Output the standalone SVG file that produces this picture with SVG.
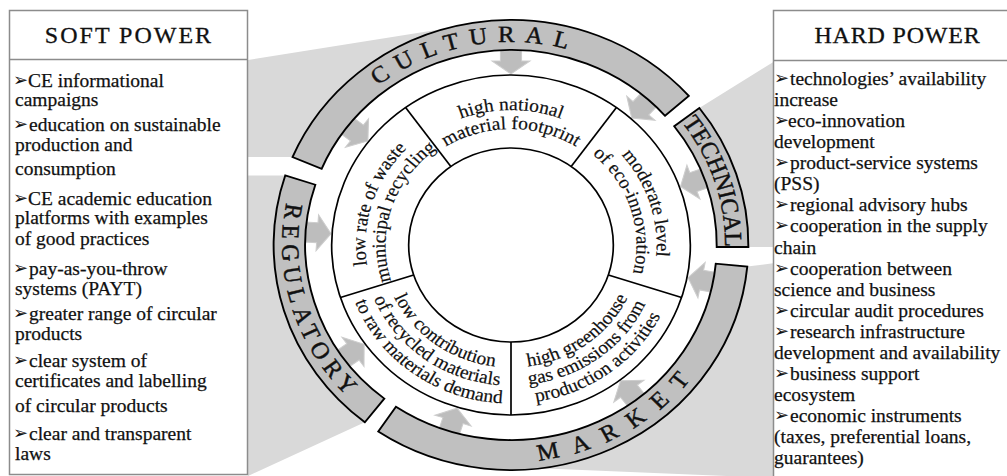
<svg xmlns="http://www.w3.org/2000/svg" width="1007" height="476" viewBox="0 0 1007 476">
  <style>
    .bg{fill:#d9d9d9}
    .box{fill:#fff;stroke:#8c8c8c;stroke-width:1.5}
    .sep{stroke:#8c8c8c;stroke-width:1.5}
    .title{font-family:"Liberation Serif","Times New Roman",serif;font-size:24px;fill:#111;stroke:#111;stroke-width:0.3}
    .item{font-family:"Liberation Serif","Times New Roman",serif;font-size:19.5px;fill:#111;stroke:#111;stroke-width:0.25}
    .bl{font-family:"DejaVu Sans",sans-serif;font-size:18px;fill:#111}
    .band{fill:#c0c0c0;stroke:#000;stroke-width:1.8}
    .ring{fill:#fff;stroke:#000;stroke-width:1.6}
    .div{stroke:#000;stroke-width:1.6}
    .arrow{fill:#bdbdbd;stroke:#cdcdcd;stroke-width:1}
    .seg{font-family:"Liberation Serif","Times New Roman",serif;font-size:18.5px;fill:#111;stroke:#111;stroke-width:0.2}
    .lbl{font-family:"Liberation Serif","Times New Roman",serif;font-size:23.5px;fill:#111;stroke:#111;stroke-width:0.45}
  </style>
  <defs>
    <!-- inward-pointing block arrow, laid along +x, tip toward the centre -->
    <path id="arr" d="M200,-10 L184,-10 L184,-18 L171,0 L184,18 L184,10 L200,10 Z"/>
    <!-- band label paths -->
    <path id="pCul" d="M-200.10,-34.21 A203,203 0 0 1 175.27,-102.41"/>
    <path id="pTec" d="M41.17,-198.78 A203,203 0 0 1 151.56,135.04"/>
    <path id="pMar" d="M-136.28,168.87 A217,217 0 0 0 212.94,-41.77"/>
    <path id="pReg" d="M-159.21,-147.43 A217,217 0 0 0 -48.07,211.6"/>
    <!-- segment label paths -->
    <path id="sT1" d="M-86.78,-103.41 A135,135 0 0 1 86.78,-103.41"/>
    <path id="sT2" d="M-74.56,-88.86 A116,116 0 0 1 74.56,-88.86"/>
    <path id="sR1" d="M73.13,-117.02 A138,138 0 0 1 127.95,51.69"/>
    <path id="sR2" d="M63.06,-100.91 A119,119 0 0 1 110.34,44.58"/>
    <path id="sL1" d="M-127.95,51.69 A138,138 0 0 1 -73.13,-117.02"/>
    <path id="sL2" d="M-110.34,44.58 A119,119 0 0 1 -63.06,-100.91"/>
    <path id="sBR1" d="M-8.54,122.2 A122.5,122.5 0 0 0 118.86,29.63"/>
    <path id="sBR2" d="M-9.8,140.16 A140.5,140.5 0 0 0 136.32,33.99"/>
    <path id="sBR3" d="M-11.07,158.12 A158.5,158.5 0 0 0 153.79,38.34"/>
    <path id="sBL1" d="M-118.86,29.63 A122.5,122.5 0 0 0 8.54,122.2"/>
    <path id="sBL2" d="M-136.32,33.99 A140.5,140.5 0 0 0 9.8,140.16"/>
    <path id="sBL3" d="M-153.79,38.34 A158.5,158.5 0 0 0 11.07,158.12"/>
  </defs>

  <rect width="1007" height="476" fill="#fff"/>

  <!-- shaded wedges joining the boxes to the outer bands -->
  <g id="wedges">
    <path class="bg" d="M248,60 L452,27.5 L457.4,41.2 A221.55,210 0 0 0 307.1,163.0 L292.5,157.1 L248,157.1 Z"/>
    <path class="bg" d="M248,175.5 L285.2,175.5 L300.3,180.1 A221.55,210 0 0 0 374.6,410.5 L364.8,422.3 L248,476 Z"/>
    <path class="bg" d="M775,61 L699.3,108.0 L686.8,117.2 A221.55,210 0 0 1 732.5,246.8 L748.4,247 L775,247 Z"/>
    <path class="bg" d="M775,263 L747.3,266.6 L731.5,265.1 A221.55,210 0 0 1 538,453.4 L539.9,468.3 L775,478 Z"/>
  </g>

  <!-- left box -->
  <g id="soft-power">
    <rect class="box" x="9.5" y="10.5" width="238" height="464"/>
    <line class="sep" x1="9.5" y1="59.5" x2="247.5" y2="59.5"/>
    <text class="title" x="129" y="43" text-anchor="middle" letter-spacing="2">SOFT POWER</text>
    <g class="bl">
      <text x="13" y="86">➢</text>
      <text x="13" y="130">➢</text>
      <text x="13" y="204">➢</text>
      <text x="13" y="274">➢</text>
      <text x="13" y="319">➢</text>
      <text x="13" y="366">➢</text>
      <text x="13" y="439">➢</text>
    </g>
    <text class="item" x="28" y="87">CE informational</text>
    <text class="item" x="15" y="106">campaigns</text>
    <text class="item" x="29" y="131">education on sustainable</text>
    <text class="item" x="15" y="151">production and</text>
    <text class="item" x="15" y="175">consumption</text>
    <text class="item" x="28" y="205">CE academic education</text>
    <text class="item" x="15" y="224">platforms with examples</text>
    <text class="item" x="15" y="245">of good practices</text>
    <text class="item" x="29" y="275">pay-as-you-throw</text>
    <text class="item" x="15" y="295">systems (PAYT)</text>
    <text class="item" x="29" y="320">greater range of circular</text>
    <text class="item" x="15" y="340">products</text>
    <text class="item" x="29" y="367">clear system of</text>
    <text class="item" x="15" y="387">certificates and labelling</text>
    <text class="item" x="15" y="412">of circular products</text>
    <text class="item" x="29" y="440">clear and transparent</text>
    <text class="item" x="15" y="460">laws</text>
  </g>

  <!-- right box -->
  <g id="hard-power">
    <rect class="box" x="773.5" y="10.5" width="250" height="480"/>
    <line class="sep" x1="773.5" y1="60.5" x2="1007" y2="60.5"/>
    <text class="title" x="897.5" y="43" text-anchor="middle" letter-spacing="0.8">HARD POWER</text>
    <g class="bl">
      <text x="774" y="84">➢</text>
      <text x="774" y="126.1">➢</text>
      <text x="774" y="168.2">➢</text>
      <text x="774" y="210.4">➢</text>
      <text x="774" y="231.4">➢</text>
      <text x="774" y="273.5">➢</text>
      <text x="774" y="315.7">➢</text>
      <text x="774" y="336.7">➢</text>
      <text x="774" y="378.8">➢</text>
      <text x="774" y="421">➢</text>
    </g>
    <text class="item" x="790" y="85">technologies’ availability</text>
    <text class="item" x="774" y="106.1">increase</text>
    <text class="item" x="788" y="127.1">eco-innovation</text>
    <text class="item" x="774" y="148.2">development</text>
    <text class="item" x="790" y="169.2">product-service systems</text>
    <text class="item" x="774" y="190.3">(PSS)</text>
    <text class="item" x="790" y="211.4">regional advisory hubs</text>
    <text class="item" x="790" y="232.4">cooperation in the supply</text>
    <text class="item" x="774" y="253.5">chain</text>
    <text class="item" x="790" y="274.5">cooperation between</text>
    <text class="item" x="774" y="295.6">science and business</text>
    <text class="item" x="790" y="316.7">circular audit procedures</text>
    <text class="item" x="790" y="337.7">research infrastructure</text>
    <text class="item" x="774" y="358.8">development and availability</text>
    <text class="item" x="790" y="379.8">business support</text>
    <text class="item" x="774" y="400.9">ecosystem</text>
    <text class="item" x="790" y="422">economic instruments</text>
    <text class="item" x="774" y="443">(taxes, preferential loans,</text>
    <text class="item" x="774" y="464.1">guarantees)</text>
  </g>

  <!-- central wheel, drawn in circle units and stretched slightly -->
  <g transform="translate(511,245) scale(1.055,1)">
    <g id="connectors">
      <use href="#arr" class="arrow" transform="rotate(183.8)"/>
      <use href="#arr" class="arrow" transform="rotate(217.5)"/>
      <use href="#arr" class="arrow" transform="rotate(270)"/>
      <use href="#arr" class="arrow" transform="rotate(312)"/>
      <use href="#arr" class="arrow" transform="rotate(340)"/>
      <use href="#arr" class="arrow" transform="rotate(11)"/>
      <use href="#arr" class="arrow" transform="rotate(52.6)"/>
      <use href="#arr" class="arrow" transform="rotate(107.4)"/>
      <use href="#arr" class="arrow" transform="rotate(144.5)"/>
    </g>

    <g id="cultural">
      <path class="band" d="M-207.11,-87.91 A225,225 0 0 1 168.53,-149.09 L146.06,-129.21 A195,195 0 0 0 -179.5,-76.19 Z"/>
      <text class="lbl" letter-spacing="9.5"><textPath href="#pCul" startOffset="50%" text-anchor="middle">CULTURAL</textPath></text>
    </g>
    <g id="technical">
      <path class="band" d="M178.52,-136.98 A225,225 0 0 1 224.99,2 L194.99,2 A195,195 0 0 0 154.71,-118.72 Z"/>
      <text class="lbl" font-size="19.5"><textPath href="#pTec" startOffset="50%" text-anchor="middle">TECHNICAL</textPath></text>
    </g>
    <g id="market">
      <path class="band" d="M223.96,21.56 A225,225 0 0 1 -125.82,186.53 L-109.04,161.66 A195,195 0 0 0 194.1,18.69 Z"/>
      <text class="lbl" letter-spacing="14"><textPath href="#pMar" startOffset="50%" text-anchor="middle">MARKET</textPath></text>
    </g>
    <g id="regulatory">
      <path class="band" d="M-138.53,177.3 A225,225 0 0 1 -214.0,-69.53 L-185.46,-60.26 A195,195 0 0 0 -120.06,153.66 Z"/>
      <text class="lbl" letter-spacing="6"><textPath href="#pReg" startOffset="50%" text-anchor="middle">REGULATORY</textPath></text>
    </g>

    <g id="wheel">
      <circle class="ring" r="170"/>
      <circle class="ring" r="97"/>
      <line class="div" x1="92.26" y1="29.97" x2="161.69" y2="52.53"/>
      <line class="div" x1="0" y1="97" x2="0" y2="170"/>
      <line class="div" x1="-92.26" y1="29.97" x2="-161.69" y2="52.53"/>
      <line class="div" x1="-57.02" y1="-78.47" x2="-99.93" y2="-137.53"/>
      <line class="div" x1="57.02" y1="-78.47" x2="99.93" y2="-137.53"/>
    </g>

    <g id="seg-footprint">
      <text class="seg"><textPath href="#sT1" startOffset="50%" text-anchor="middle">high national</textPath></text>
      <text class="seg"><textPath href="#sT2" startOffset="50%" text-anchor="middle">material footprint</textPath></text>
    </g>
    <g id="seg-eco-innovation">
      <text class="seg"><textPath href="#sR1" startOffset="50%" text-anchor="middle">moderate level</textPath></text>
      <text class="seg"><textPath href="#sR2" startOffset="50%" text-anchor="middle">of eco-innovation</textPath></text>
    </g>
    <g id="seg-emissions">
      <text class="seg"><textPath href="#sBR1" startOffset="50%" text-anchor="middle">high greenhouse</textPath></text>
      <text class="seg"><textPath href="#sBR2" startOffset="50%" text-anchor="middle">gas emissions from</textPath></text>
      <text class="seg"><textPath href="#sBR3" startOffset="50%" text-anchor="middle">production activities</textPath></text>
    </g>
    <g id="seg-recycled">
      <text class="seg"><textPath href="#sBL1" startOffset="50%" text-anchor="middle">low contribution</textPath></text>
      <text class="seg"><textPath href="#sBL2" startOffset="50%" text-anchor="middle">of recycled materials</textPath></text>
      <text class="seg"><textPath href="#sBL3" startOffset="50%" text-anchor="middle">to raw materials demand</textPath></text>
    </g>
    <g id="seg-recycling">
      <text class="seg"><textPath href="#sL1" startOffset="50%" text-anchor="middle">low rate of waste</textPath></text>
      <text class="seg"><textPath href="#sL2" startOffset="50%" text-anchor="middle">municipal recycling</textPath></text>
    </g>
  </g>
</svg>
